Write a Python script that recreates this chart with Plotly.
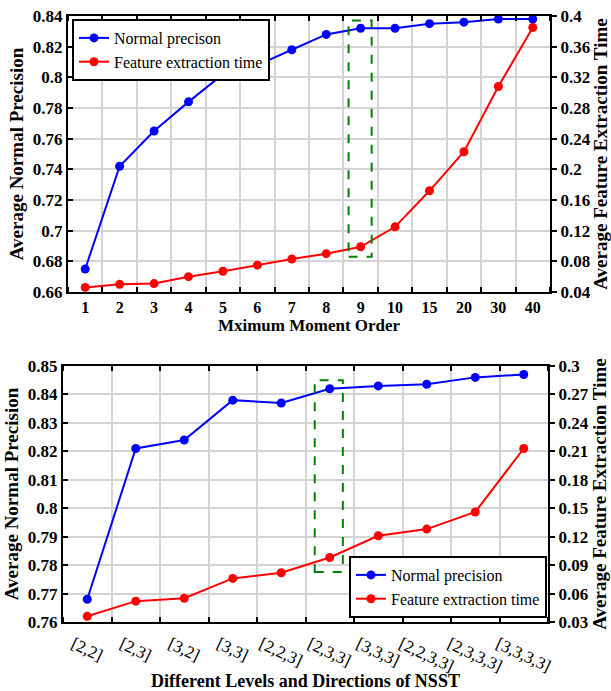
import math
import plotly.graph_objects as go

# ---------------- data ----------------
top_orders = ["1", "2", "3", "4", "5", "6", "7", "8", "9", "10", "15", "20", "30", "40"]
top_precision = [0.675, 0.742, 0.765, 0.784, 0.802, 0.808, 0.818, 0.828, 0.832, 0.832,
                 0.835, 0.836, 0.838, 0.838]
top_time = [0.046, 0.050, 0.051, 0.060, 0.067, 0.075, 0.083, 0.090, 0.099, 0.125,
            0.172, 0.223, 0.308, 0.385]

bottom_levels = ["[2,2]", "[2,3]", "[3,2]", "[3,3]", "[2,2,3]", "[2,3,3]", "[3,3,3]",
                 "[2,2,3,3]", "[2,3,3,3]", "[3,3,3,3]"]
bottom_precision = [0.768, 0.821, 0.824, 0.838, 0.837, 0.842, 0.843, 0.8436, 0.846, 0.847]
bottom_time = [0.036, 0.052, 0.055, 0.076, 0.082, 0.098, 0.121, 0.128, 0.146, 0.213]

top_left_vals = [0.66, 0.68, 0.70, 0.72, 0.74, 0.76, 0.78, 0.80, 0.82, 0.84]
top_left_text = ["0.66", "0.68", "0.7", "0.72", "0.74", "0.76", "0.78", "0.8", "0.82", "0.84"]
top_right_vals = [0.04, 0.08, 0.12, 0.16, 0.20, 0.24, 0.28, 0.32, 0.36, 0.40]
top_right_text = ["0.04", "0.08", "0.12", "0.16", "0.2", "0.24", "0.28", "0.32", "0.36", "0.4"]
bot_left_vals = [0.76, 0.77, 0.78, 0.79, 0.80, 0.81, 0.82, 0.83, 0.84, 0.85]
bot_left_text = ["0.76", "0.77", "0.78", "0.79", "0.8", "0.81", "0.82", "0.83", "0.84", "0.85"]
bot_right_vals = [0.03, 0.06, 0.09, 0.12, 0.15, 0.18, 0.21, 0.24, 0.27, 0.30]
bot_right_text = ["0.03", "0.06", "0.09", "0.12", "0.15", "0.18", "0.21", "0.24", "0.27", "0.3"]

# highlighted (chosen) settings
top_box = dict(x0=8.65, x1=9.32, y0=0.683, y1=0.837)
bot_box = dict(x0=5.69, x1=6.27, y0=0.7776, y1=0.845)

# ---------------- layout helpers ----------------
W, H = 611, 691
SERIF = "Liberation Serif, Times New Roman, serif"
BLUE = "rgb(0,0,255)"
RED = "rgb(255,0,0)"
GRID = "rgb(212,212,212)"

top_px = (68, 550, 16, 292)   # left, right, top, bottom in pixels
bot_px = (63, 548, 366, 622)


def xdom(p):
    return [p[0] / W, p[1] / W]


def ydom(p):
    return [1 - p[3] / H, 1 - p[2] / H]


top_x = list(range(1, len(top_orders) + 1))
bot_x = list(range(1, len(bottom_levels) + 1))

# rotated bottom tick labels: shift start so the label is centred under its point
tick_fs = 17
angle = 25
char_em = {"[": 0.333, "]": 0.333, ",": 0.25}
px_per_unit = (bot_px[1] - bot_px[0]) / len(bottom_levels)
bot_tickvals = []
for i, lab in zip(bot_x, bottom_levels):
    w = sum(char_em.get(c, 0.5) for c in lab) * tick_fs
    shift = (w * math.cos(math.radians(angle)) / 2 - 1) / px_per_unit
    bot_tickvals.append(i - shift)

fig = go.Figure()

marker = dict(symbol="circle", size=9)
fig.add_trace(go.Scatter(x=top_x, y=top_precision, mode="lines+markers", name="Normal precison",
                         line=dict(color=BLUE, width=2), marker=dict(color=BLUE, **marker),
                         xaxis="x", yaxis="y", legend="legend"))
fig.add_trace(go.Scatter(x=top_x, y=top_time, mode="lines+markers", name="Feature extraction time",
                         line=dict(color=RED, width=2), marker=dict(color=RED, **marker),
                         xaxis="x", yaxis="y2", legend="legend"))
fig.add_trace(go.Scatter(x=bot_x, y=bottom_precision, mode="lines+markers", name="Normal precision",
                         line=dict(color=BLUE, width=2), marker=dict(color=BLUE, **marker),
                         xaxis="x2", yaxis="y3", legend="legend2"))
fig.add_trace(go.Scatter(x=bot_x, y=bottom_time, mode="lines+markers", name="Feature extraction time",
                         line=dict(color=RED, width=2), marker=dict(color=RED, **marker),
                         xaxis="x2", yaxis="y4", legend="legend2"))

axis_common = dict(showline=True, linecolor="black", linewidth=2, zeroline=False)
tick_font_b = dict(family=SERIF, size=17, color="black", weight="bold")
title_font_x = dict(family=SERIF, size=17, color="black", weight="bold")
title_font_x2 = dict(family=SERIF, size=18, color="black", weight="bold")
title_font_y = dict(family=SERIF, size=19, color="black", weight="bold")

minor_common = dict(ticks="inside", ticklen=5, tickcolor="black", tickwidth=1.5,
                    showgrid=True, gridcolor=GRID, gridwidth=1.5, tick0=0.5, dtick=1)

fig.update_layout(
    width=W, height=H,
    margin=dict(l=0, r=0, t=0, b=0),
    paper_bgcolor="white", plot_bgcolor="white",
    showlegend=True,
    xaxis=dict(domain=xdom(top_px), anchor="y", range=[0.5, len(top_orders) + 0.5],
               tickmode="array", tickvals=top_x, ticktext=top_orders, ticks="",
               showgrid=False, mirror="ticks", tickfont=dict(family=SERIF, size=16, color="black", weight="bold"),
               minor=minor_common, automargin=False,
               title=dict(text="Mximum Moment Order", font=title_font_x, standoff=3),
               **axis_common),
    yaxis=dict(domain=ydom(top_px), anchor="x", range=[0.66, 0.84],
               tickmode="array", tickvals=top_left_vals, ticktext=top_left_text,
               ticks="inside", ticklen=5, tickwidth=1.5, tickcolor="black",
               showgrid=True, gridcolor=GRID, gridwidth=1.5, tickfont=tick_font_b, automargin=False,
               title=dict(text="Average Normal Precision", font=title_font_y, standoff=4),
               **axis_common),
    yaxis2=dict(overlaying="y", side="right", anchor="x", range=[0.04, 0.40],
                tickmode="array", tickvals=top_right_vals, ticktext=top_right_text,
                ticks="outside", ticklen=5, tickwidth=1.5, tickcolor="black",
                showgrid=False, tickfont=tick_font_b, automargin=False,
                title=dict(text="Average Feature Extraction Time", font=title_font_y, standoff=2),
                **axis_common),
    xaxis2=dict(domain=xdom(bot_px), anchor="y3", range=[0.5, len(bottom_levels) + 0.5],
                tickmode="array", tickvals=bot_tickvals, ticktext=bottom_levels, ticks="",
                tickangle=angle, showgrid=False, mirror="ticks", ticklabelstandoff=4,
                tickfont=dict(family=SERIF, size=tick_fs, color="black"),
                minor=minor_common, automargin=False,
                title=dict(text="Different Levels and Directions of NSST", font=title_font_x2, standoff=3),
                **axis_common),
    yaxis3=dict(domain=ydom(bot_px), anchor="x2", range=[0.76, 0.85],
                tickmode="array", tickvals=bot_left_vals, ticktext=bot_left_text,
                ticks="inside", ticklen=5, tickwidth=1.5, tickcolor="black",
                showgrid=True, gridcolor=GRID, gridwidth=1.5, tickfont=tick_font_b, automargin=False,
                title=dict(text="Average Normal Precision", font=title_font_y, standoff=4),
                **axis_common),
    yaxis4=dict(overlaying="y3", side="right", anchor="x2", range=[0.03, 0.30],
                tickmode="array", tickvals=bot_right_vals, ticktext=bot_right_text,
                ticks="outside", ticklen=5, tickwidth=1.5, tickcolor="black",
                showgrid=False, tickfont=tick_font_b, automargin=False,
                title=dict(text="Average Feature Extraction Time", font=title_font_y, standoff=2),
                **axis_common),
    legend=dict(x=72 / W, y=1 - 19 / H, xanchor="left", yanchor="top",
                bgcolor="white", bordercolor="black", borderwidth=2,
                font=dict(family=SERIF, size=16, color="black"), tracegroupgap=0),
    legend2=dict(x=547 / W, y=1 - 618 / H, xanchor="right", yanchor="bottom",
                 bgcolor="white", bordercolor="black", borderwidth=2,
                 font=dict(family=SERIF, size=16, color="black"), tracegroupgap=0),
    shapes=[
        dict(type="rect", xref="x", yref="y", line=dict(color="rgb(0,130,0)", width=2, dash="dash"),
             fillcolor="rgba(0,0,0,0)", **top_box),
        dict(type="rect", xref="x2", yref="y3", line=dict(color="rgb(0,130,0)", width=2, dash="dash"),
             fillcolor="rgba(0,0,0,0)", **bot_box),
    ],
)

fig.write_html("out.html", config={"displayModeBar": False},
               post_script="document.body.style.margin='0px';")
